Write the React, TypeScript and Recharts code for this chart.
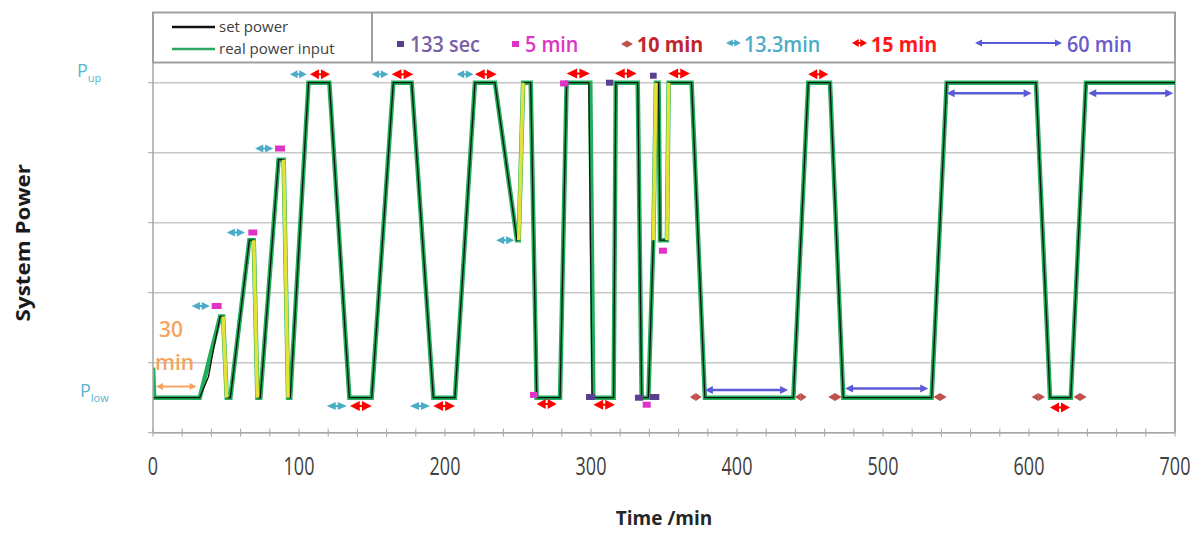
import React from 'react';
import { LineChart, Line, XAxis, YAxis, ReferenceLine, CartesianGrid } from 'recharts';

// ---- series: real power input (green)
const realTime = [0, 0.8, 32, 46, 48, 50.5, 53, 66, 69, 71.5, 73.5, 86, 89.5, 92.5, 94, 106.5, 120.8, 134.5, 149.8, 164.6, 177.2, 192, 206.8, 220.5, 234.2, 249.3, 250.5, 253.5, 258.7, 262.8, 278.8, 283.3, 299.5, 301.6, 315.5, 317, 332, 334.7, 339.3, 342.7, 344.5, 346.3, 347.3, 352, 353.2, 368.9, 378, 438.6, 448.8, 463.7, 472.8, 533.3, 543.6, 604.8, 614.4, 628.6, 639, 700];
const realPower = [0.93, 0.5, 0.5, 1.66, 1.66, 0.5, 0.5, 2.75, 2.75, 0.5, 0.5, 3.9, 3.9, 0.5, 0.5, 5, 5, 0.5, 0.5, 5, 5, 0.5, 0.5, 5, 5, 2.75, 2.75, 5, 5, 0.5, 0.5, 5, 5, 0.5, 0.5, 5, 5, 0.5, 0.5, 2.75, 5, 5, 2.75, 2.75, 5, 5, 0.5, 0.5, 5, 5, 0.5, 0.5, 5, 5, 0.5, 0.5, 5, 5];

// ---- series: set power (black)
const setTime = [0, 32, 38, 42, 46, 48, 50.5, 53, 66, 69, 71.5, 73.5, 86, 89.5, 92.5, 94, 106.5, 120.8, 134.5, 149.8, 164.6, 177.2, 192, 206.8, 220.5, 234.2, 249.3, 250.5, 253.5, 258.7, 262.8, 278.8, 283.3, 298.5, 300.8, 315.5, 317, 332, 334.7, 339.3, 342.7, 344.5, 346.3, 347.3, 352, 353.2, 368.9, 378, 438.6, 448.8, 463.7, 472.8, 533.3, 543.6, 604.8, 614.4, 628.6, 639, 700];
const setPower = [0.5, 0.5, 0.8, 1.25, 1.66, 1.66, 0.5, 0.5, 2.75, 2.75, 0.5, 0.5, 3.9, 3.9, 0.5, 0.5, 5, 5, 0.5, 0.5, 5, 5, 0.5, 0.5, 5, 5, 2.75, 2.75, 5, 5, 0.5, 0.5, 5, 5, 0.5, 0.5, 5, 5, 0.5, 0.5, 2.75, 5, 5, 2.75, 2.75, 5, 5, 0.5, 0.5, 5, 5, 0.5, 0.5, 5, 5, 0.5, 0.5, 5, 5];

// ---- yellow step segments [t1, p1, t2, p2]
const yellowSegments = [
  [48, 1.66, 50.5, 0.5],
  [69, 2.75, 71.5, 0.5],
  [89.5, 3.9, 92.5, 0.5],
  [250.5, 2.75, 253.5, 5],
  [342.7, 2.75, 344.5, 5],
  [352, 2.75, 353.2, 5],
];

// ---- duration markers [start min, end min, level]
const mark133s = [[296.6, 302.7, 0.51], [310.3, 315.3, 5.0], [330.1, 335.8, 0.5], [340.4, 345, 5.1], [340.4, 346.8, 0.51]];
const mark5min = [[40.2, 47, 1.81], [65.3, 71.4, 2.86], [83.6, 90.4, 4.06], [258.2, 263.5, 0.54], [278.8, 284.5, 4.99], [335.4, 340.9, 0.4], [346.5, 352, 2.6]];
const mark10min = [[367.8, 375.8, 0.51], [439.7, 447.7, 0.51], [462.5, 471.7, 0.51], [534.5, 543.6, 0.51], [601.8, 611, 0.51], [630.4, 639.5, 0.51]];
const mark13min = [[26.5, 39, 1.81], [50.5, 63, 2.86], [69.9, 82.4, 4.06], [93.8, 105.3, 5.12], [119, 132.7, 0.38], [149.8, 161.2, 5.12], [176, 189.7, 0.38], [208, 219.4, 5.12], [235, 247.5, 2.75]];
const mark15min = [[107.5, 121.2, 5.12], [134.9, 149.8, 0.38], [163.5, 178.3, 5.12], [192, 206.8, 0.38], [220.5, 235.4, 5.12], [262.8, 276.5, 0.41], [283.3, 299.3, 5.13], [301.6, 316.4, 0.4], [316.4, 331.3, 5.13], [353, 367.8, 5.13], [448.8, 462.5, 5.12], [614.4, 628.1, 0.36]];
const mark60min = [[378, 435, 0.61], [474, 531, 0.63], [543.6, 601.8, 4.85], [640.6, 698.8, 4.85]];
const mark30min = [[2, 29.9, 0.66]];

// ---- axes
const xTicks = [0, 20, 40, 60, 80, 100, 120, 140, 160, 180, 200, 220, 240, 260, 280, 300, 320, 340, 360, 380, 400, 420, 440, 460, 480, 500, 520, 540, 560, 580, 600, 620, 640, 660, 680, 700];
const xLabels = [0, 100, 200, 300, 400, 500, 600, 700];
const yTicks = [0, 0.5, 1, 2, 3, 4, 5];
const gridValues = [1, 2, 3, 4, 5];
const yLabelNames: Record<string, [string, string]> = { '0.5': ['P', 'low'], '5': ['P', 'up'] };

const FONT = '"Open Sans", "Noto Sans", sans-serif';

const realData = realTime.map((t, i) => ({ t, v: realPower[i] }));
const setData = setTime.map((t, i) => ({ t, v: setPower[i] }));
const yellowData = yellowSegments.flatMap(([t1, p1, t2, p2]) => [
  { t: t1, v: p1 },
  { t: t2, v: p2 },
  { t: t2, v: null },
]);

const arrowShape = (color: string, halfH: number, headFrac: number, lineW: number, headPx?: number) => (p: any) => {
  const x1 = Math.min(p.x1, p.x2);
  const x2 = Math.max(p.x1, p.x2);
  const y = p.y1;
  const hl = headPx ?? (x2 - x1) * headFrac;
  return (
    <g>
      <line x1={x1 + hl * 0.5} x2={x2 - hl * 0.5} y1={y} y2={y} stroke={color} strokeWidth={lineW} />
      <polygon points={`${x1},${y} ${x1 + hl},${y - halfH} ${x1 + hl},${y + halfH}`} fill={color} />
      <polygon points={`${x2},${y} ${x2 - hl},${y - halfH} ${x2 - hl},${y + halfH}`} fill={color} />
    </g>
  );
};

const rectShape = (color: string, h: number) => (p: any) => {
  const x1 = Math.min(p.x1, p.x2);
  const x2 = Math.max(p.x1, p.x2);
  return <rect x={x1} y={p.y1 - h / 2} width={Math.max(x2 - x1, 4)} height={h} fill={color} />;
};

const thirtyShape = (p: any) => {
  const base = arrowShape('#f4a460', 3.5, 0, 2, 7)(p);
  const x1 = Math.min(p.x1, p.x2);
  return (
    <g>
      {base}
      <text x={x1 + 3} y={p.y1 - 50} fill="#f4a460" fontFamily={FONT} fontWeight={600} fontSize={21}>30</text>
      <text x={x1 - 1} y={p.y1 - 17} fill="#f4a460" fontFamily={FONT} fontWeight={600} fontSize={21}>min</text>
    </g>
  );
};

const XTick = (props: any) => {
  const { x, y, payload } = props;
  const v = payload.value;
  return (
    <g>
      <line x1={x} x2={x} y1={y - 4} y2={y + 4} stroke="#a6a6a6" strokeWidth={1} />
      {xLabels.includes(v) && (
        <text transform={`translate(${x},${y + 42}) scale(0.72,1)`} textAnchor="middle" fill="#404040" fontFamily={FONT} fontSize={25}>
          {v}
        </text>
      )}
    </g>
  );
};

const YTick = (props: any) => {
  const { x, y, payload } = props;
  const v = payload.value;
  const name = yLabelNames[String(v)];
  return (
    <g>
      {Number.isInteger(v) && <line x1={x - 5} x2={x} y1={y} y2={y} stroke="#a6a6a6" strokeWidth={1} />}
      {name && (
        <text x={v === 5 ? x - 76 : x - 73} y={v === 5 ? y - 5.5 : y - 0.5} fill="#5ab4cc" fontFamily={FONT} fontSize={18}>
          {name[0]}
          <tspan fontSize={11} dy={5}>{name[1]}</tspan>
        </text>
      )}
    </g>
  );
};

const XTitle = (props: any) => {
  const vb = props && props.viewBox ? props.viewBox : { x: 153, y: 432.7, width: 1022, height: 95 };
  return (
    <text x={vb.x + vb.width / 2} y={vb.y + 92} textAnchor="middle" fill="#262626" fontFamily={FONT} fontWeight={700} fontSize={19}>
      Time /min
    </text>
  );
};

const YTitle = (props: any) => {
  const vb = props && props.viewBox ? props.viewBox : { x: 73, y: 12.7, width: 80, height: 420 };
  const cx = vb.x - 43;
  const cy = vb.y + vb.height / 2 + 20;
  return (
    <text transform={`translate(${cx},${cy}) rotate(-90) scale(1.12,1)`} textAnchor="middle" fill="#1a1a1a" fontFamily={FONT} fontWeight={700} fontSize={20}>
      System Power
    </text>
  );
};

const markerLines = (list: number[][], shape: any, prefix: string) =>
  list.map(([a, b, lvl], i) => (
    <ReferenceLine
      key={`${prefix}-${i}`}
      segment={[{ x: a, y: lvl }, { x: b, y: lvl }]}
      shape={shape}
      ifOverflow="visible"
    />
  ));

const LegendText = ({ x, y, color, weight, children }: any) => (
  <text transform={`translate(${x},${y}) scale(0.9,1)`} fill={color} fontFamily={FONT} fontWeight={weight} fontSize={22}>
    {children}
  </text>
);

const Legend = () => (
  <svg width={1201} height={70} style={{ position: 'absolute', left: 0, top: 0, pointerEvents: 'none' }}>
    <rect x={153} y={12.5} width={1022} height={50} fill="#ffffff" stroke="#a0a0a0" strokeWidth={2} />
    <line x1={372} x2={372} y1={12.5} y2={62.5} stroke="#a0a0a0" strokeWidth={2} />
    <line x1={172} x2={215} y1={27} y2={27} stroke="#111" strokeWidth={2.5} />
    <text x={219} y={32} fill="#404040" fontFamily={FONT} fontSize={15}>set power</text>
    <line x1={172} x2={215} y1={49} y2={49} stroke="#2aa862" strokeWidth={2.5} />
    <text x={219} y={54} fill="#404040" fontFamily={FONT} fontSize={15}>real power input</text>

    <rect x={397} y={41} width={7} height={6} fill="#5b3f8f" />
    <LegendText x={410} y={52} color="#7a5fa5" weight={600}>133 sec</LegendText>
    <rect x={512} y={41} width={7} height={6} fill="#e033c5" />
    <LegendText x={525} y={52} color="#e033c5" weight={600}>5 min</LegendText>
    {arrowShape('#c0504d', 3.5, 0.5, 1, undefined)({ x1: 621, x2: 633, y1: 44 })}
    <LegendText x={637} y={52} color="#c0272d" weight={700}>10 min</LegendText>
    {arrowShape('#4bacc6', 3.5, 0.45, 2, undefined)({ x1: 726, x2: 741, y1: 43 })}
    <LegendText x={744} y={52} color="#4bacc6" weight={600}>13.3min</LegendText>
    {arrowShape('#ff0000', 4, 0.45, 2, undefined)({ x1: 852, x2: 867, y1: 43 })}
    <LegendText x={871} y={52} color="#ff1a1a" weight={700}>15 min</LegendText>
    {arrowShape('#5a5ad8', 3.5, 0, 2, 7)({ x1: 975, x2: 1062, y1: 43 })}
    <LegendText x={1067} y={52} color="#6a5acd" weight={600}>60 min</LegendText>
  </svg>
);

export default function App() {
  return (
    <div style={{ position: 'absolute', left: 0, top: 0, width: 1201, height: 534, background: '#ffffff' }}>
      <LineChart width={1201} height={534} margin={{ top: 12.7, right: 26, bottom: 6.3, left: 73 }}>
        <CartesianGrid yAxisId="grid" vertical={false} stroke="#c8c8c8" strokeWidth={1.5} />
        <XAxis
          dataKey="t"
          type="number"
          domain={[0, 700]}
          ticks={xTicks}
          interval={0}
          tick={XTick}
          tickLine={false}
          tickSize={0}
          tickMargin={0}
          height={95}
          axisLine={{ stroke: '#a6a6a6', strokeWidth: 1.5 }}
          label={XTitle}
          allowDataOverflow
        />
        <YAxis
          type="number"
          domain={[0, 6]}
          ticks={yTicks}
          interval={0}
          tick={YTick}
          tickLine={false}
          tickSize={0}
          tickMargin={0}
          width={80}
          axisLine={{ stroke: '#a6a6a6', strokeWidth: 1.5 }}
          label={YTitle}
          allowDataOverflow
        />
        <YAxis yAxisId="grid" type="number" domain={[0, 6]} ticks={gridValues} interval={0} hide allowDataOverflow />
        <ReferenceLine x={700} stroke="#a6a6a6" strokeWidth={2} />
        <Line data={realData} dataKey="v" type="linear" stroke="#1fae5a" strokeWidth={4.5} dot={false} isAnimationActive={false} />
        <Line data={setData} dataKey="v" type="linear" stroke="#111111" strokeWidth={1.3} dot={false} isAnimationActive={false} />
        <Line data={yellowData} dataKey="v" type="linear" stroke="#e2e23a" strokeWidth={3.5} dot={false} isAnimationActive={false} connectNulls={false} />
        {markerLines(mark60min, arrowShape('#5a5ad8', 4, 0, 2.5, 8), 'm60')}
        {markerLines(mark30min, thirtyShape, 'm30')}
        {markerLines(mark13min, arrowShape('#4bacc6', 4, 0.45, 2), 'm13')}
        {markerLines(mark15min, arrowShape('#ff0000', 5, 0.45, 2), 'm15')}
        {markerLines(mark10min, arrowShape('#c0504d', 4, 0.5, 1), 'm10')}
        {markerLines(mark5min, rectShape('#e033c5', 6), 'm5')}
        {markerLines(mark133s, rectShape('#5b3f8f', 6), 'm133')}
      </LineChart>
      <Legend />
    </div>
  );
}
